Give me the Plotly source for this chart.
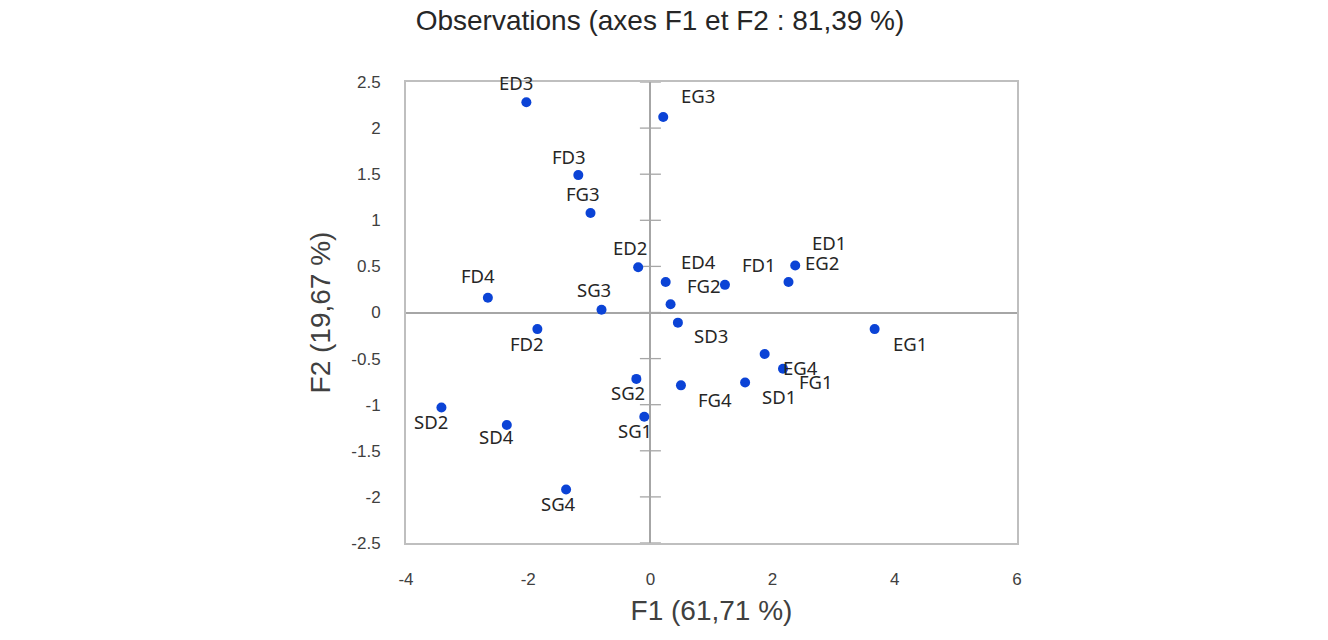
import plotly.graph_objects as go

labels = ["ED1", "ED2", "ED3", "ED4", "EG1", "EG2", "EG3", "EG4",
          "FD1", "FD2", "FD3", "FD4", "FG1", "FG2", "FG3", "FG4",
          "SD1", "SD2", "SD3", "SD4", "SG1", "SG2", "SG3", "SG4"]
f1 = [2.37, -0.20, -2.03, 0.25, 3.67, 2.26, 0.21, 1.87,
      1.22, -1.85, -1.18, -2.66, 2.17, 0.33, -0.98, 0.50,
      1.55, -3.42, 0.45, -2.35, -0.10, -0.23, -0.80, -1.38]
f2 = [0.51, 0.49, 2.28, 0.33, -0.18, 0.33, 2.12, -0.45,
      0.30, -0.18, 1.49, 0.16, -0.61, 0.09, 1.08, -0.79,
      -0.76, -1.03, -0.11, -1.22, -1.13, -0.72, 0.03, -1.92]

x_ticks = [-4, -2, 0, 2, 4, 6]
y_ticks = [2.5, 2, 1.5, 1, 0.5, 0, -0.5, -1, -1.5, -2, -2.5]

# label offsets in pixels (style only)
label_shift = {
    "ED1": (34, 23), "ED2": (-8, 20), "ED3": (-10, 20), "ED4": (33, 21),
    "EG1": (35, -14), "EG2": (34, 20), "EG3": (35, 22), "EG4": (36, -14),
    "FD1": (34, 20), "FD2": (-10, -14), "FD3": (-9, 19), "FD4": (-10, 22),
    "FG1": (33, -13), "FG2": (33, 19), "FG3": (-8, 19), "FG4": (34, -14),
    "SD1": (34, -14), "SD2": (-10, -14), "SD3": (33, -13), "SD4": (-10, -12),
    "SG1": (-9, -14), "SG2": (-8, -14), "SG3": (-8, 20), "SG4": (-8, -14),
}

axis_grey = "#A6A6A6"
border_grey = "#BFBFBF"
text_col = "#404040"
pt_col = "#0b43d6"
label_font = dict(family="Noto Sans, Open Sans, sans-serif", size=18.5, color="#262626")
main_font = "Liberation Sans, Arial, sans-serif"

fig = go.Figure()

# y tick marks on the vertical axis through x=0
fig.add_trace(go.Scatter(
    x=[0] * len(y_ticks), y=y_ticks, mode="markers",
    marker=dict(symbol="line-ew-open", size=15, color=axis_grey,
                line=dict(color=axis_grey, width=1.3)),
    hoverinfo="skip", showlegend=False))

fig.add_trace(go.Scatter(
    x=f1, y=f2, mode="markers", text=labels,
    marker=dict(color=pt_col, size=10),
    showlegend=False))

for lab, xv, yv in zip(labels, f1, f2):
    dx, dy = label_shift[lab]
    fig.add_annotation(x=xv, y=yv, text=lab, showarrow=False,
                       xshift=dx, yshift=dy, font=label_font)

fig.update_layout(
    width=1328, height=640,
    paper_bgcolor="white", plot_bgcolor="white",
    margin=dict(l=406, r=311, t=82, b=97),
    title=dict(text="Observations (axes F1 et F2 : 81,39 %)",
               x=0.497, xanchor="center", y=0.969, yanchor="middle",
               font=dict(family=main_font, size=28, color="#262626")),
    xaxis=dict(range=[-4, 6], tickvals=x_ticks, ticktext=[str(v) for v in x_ticks],
               showgrid=False, zeroline=True, zerolinecolor=axis_grey, zerolinewidth=1.5,
               showline=True, mirror=True, linecolor=border_grey, linewidth=2,
               ticks="outside", ticklen=20, tickcolor="rgba(0,0,0,0)",
               tickfont=dict(family=main_font, size=17, color=text_col),
               title=dict(text="F1 (61,71 %)", standoff=12,
                          font=dict(family=main_font, size=28, color=text_col))),
    yaxis=dict(range=[-2.5, 2.5], tickvals=y_ticks, ticktext=[str(v) for v in y_ticks],
               showgrid=False, zeroline=True, zerolinecolor=axis_grey, zerolinewidth=1.5,
               showline=True, mirror=True, linecolor=border_grey, linewidth=2,
               ticks="outside", ticklen=20, tickcolor="rgba(0,0,0,0)",
               tickfont=dict(family=main_font, size=17, color=text_col),
               title=dict(text="F2 (19,67 %)", standoff=13,
                          font=dict(family=main_font, size=28, color=text_col))),
)

fig.write_html("out.html", config={"displayModeBar": False},
               post_script="document.body.style.margin='0';")
